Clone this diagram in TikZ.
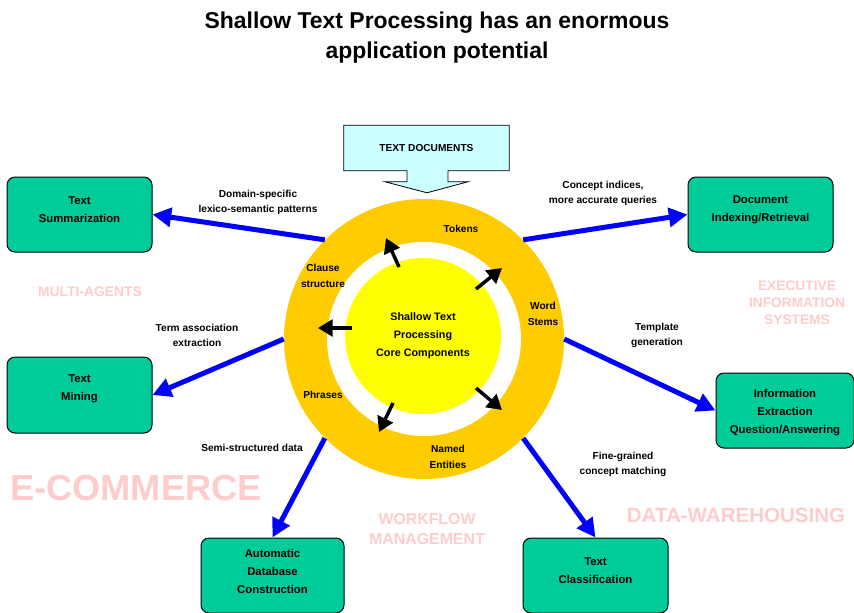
\documentclass[tikz,border=0pt]{standalone}
\usepackage{fontspec}
\setmainfont{Liberation Sans}
\usetikzlibrary{arrows.meta,calc,backgrounds}
\definecolor{appgreen}{HTML}{00CC99}
\definecolor{ringorange}{HTML}{FFCC00}
\definecolor{coreyellow}{HTML}{FFFF00}
\definecolor{docscyan}{HTML}{CCFFFF}
\definecolor{flowblue}{HTML}{0000FF}
\definecolor{fadepink}{HTML}{FFCCCC}
\begin{document}
\begin{tikzpicture}[x=0.75pt,y=-0.75pt,
  app/.style={draw=black, line width=0.75pt, fill=appgreen, rounded corners=6pt,
    minimum width=108.75pt, minimum height=56.25pt, inner sep=0pt},
  apptext/.style={align=center, inner sep=0pt, font=\bfseries\fontsize{8.5}{13.5}\selectfont},
  flow/.style={draw=flowblue, line width=3.75pt, -{Triangle[length=14pt,width=14pt]}},
  spoke/.style={draw=black, line width=2.6pt, -{Triangle[length=11pt,width=12.5pt]}},
  lbl/.style={align=center, inner sep=0pt, font=\bfseries\fontsize{7.6}{11.25}\selectfont},
  ringlbl/.style={align=center, inner sep=0pt, font=\bfseries\fontsize{7.6}{12}\selectfont},
  fade/.style={align=center, inner sep=0pt, text=fadepink}
]
\clip (0,0) rectangle (854,612);

% title
\node[align=center, font=\bfseries\fontsize{17.2}{22.5}\selectfont] (title) at (437,37.5)
  {Shallow Text Processing has an enormous\\application potential};

% faded application domains
\node[fade, font=\bfseries\fontsize{10.4}{12.8}\selectfont] (dmulti) at (90,292) {MULTI-AGENTS};
\node[fade, font=\bfseries\fontsize{10.3}{12.8}\selectfont] (dexec) at (797,303) {EXECUTIVE\\INFORMATION\\SYSTEMS};
\node[fade, font=\bfseries\fontsize{27.2}{30}\selectfont] (decom) at (136,488) {E-COMMERCE};
\node[fade, font=\bfseries\fontsize{11.9}{15}\selectfont] (dwork) at (427,529) {WORKFLOW\\MANAGEMENT};
\node[fade, font=\bfseries\fontsize{15.4}{18}\selectfont] (dware) at (736,515) {DATA-WAREHOUSING};

% input documents with their down arrow
\node[minimum width=123.75pt, minimum height=33.75pt, inner sep=0pt,
  font=\bfseries\fontsize{7.6}{9}\selectfont] (docs) at (426.5,148) {TEXT DOCUMENTS};
\begin{scope}[on background layer]
  \fill[white] (0,0) rectangle (854,612);
  \draw[line width=0.6pt, fill=docscyan] (docs.north west) -- (docs.north east) -- (docs.south east)
    -- ($(docs.south)+(21.5,0)$) -- ($(docs.south)+(21.5,11)$) -- ($(docs.south)+(41.5,11)$)
    -- ($(docs.south)+(0.5,22)$) -- ($(docs.south)+(-41.5,11)$) -- ($(docs.south)+(-19.5,11)$)
    -- ($(docs.south)+(-19.5,0)$) -- (docs.south west) -- cycle;
\end{scope}

% core components ring
\node[circle, fill=ringorange, minimum size=210pt, inner sep=0pt] (ring) at (424,339) {};
\node[circle, fill=white, minimum size=145.5pt, inner sep=0pt] (gap) at (424,339) {};
\node[circle, fill=coreyellow, minimum size=117pt, inner sep=0pt, align=center,
  font=\bfseries\fontsize{8.1}{13.5}\selectfont] (core) at (423,336)
  {Shallow Text\\Processing\\Core Components};

\node[ringlbl] (tokens) at (461,229) {Tokens};
\node[ringlbl] (clause) at (323,275.5) {Clause\\structure};
\node[ringlbl] (stems) at (543,313.5) {Word\\Stems};
\node[ringlbl] (phrases) at (323,395) {Phrases};
\node[ringlbl] (named) at (448,456.5) {Named\\Entities};

% spokes from the core to its components
\coordinate (s1a) at (399,267); \coordinate (s1b) at (386,238);
\coordinate (s2a) at (476,289); \coordinate (s2b) at (502,268);
\coordinate (s3a) at (352,328); \coordinate (s3b) at (318,328);
\coordinate (s4a) at (476,388); \coordinate (s4b) at (502,410);
\coordinate (s5a) at (393,403); \coordinate (s5b) at (379,432);
\draw[spoke] (s1a) -- (s1b);
\draw[spoke] (s2a) -- (s2b);
\draw[spoke] (s3a) -- (s3b);
\draw[spoke] (s4a) -- (s4b);
\draw[spoke] (s5a) -- (s5b);

% applications
\node[app] (tsum) at (79.5,214.5) {};
\node[app] (docidx) at (760.5,214.5) {};
\node[app, minimum height=57pt] (tmin) at (79.5,395) {};
\node[app, minimum width=103.5pt] (iex) at (785,410.5) {};
\node[app, minimum width=107.25pt] (adb) at (272.5,575.5) {};
\node[app] (tcl) at (595.5,575.5) {};

\node[apptext] (tsumt) at ($(tsum.center)+(0,-5)$) {Text\\Summarization};
\node[apptext] (docidxt) at ($(docidx.center)+(0,-5)$) {Document\\Indexing/Retrieval};
\node[apptext] (tmint) at ($(tmin.center)+(0,-6)$) {Text\\Mining};
\node[apptext] (iext) at ($(iex.center)+(0,2.5)$) {Information\\Extraction\\Question/Answering};
\node[apptext] (adbt) at ($(adb.center)+(0,-4.5)$) {Automatic\\Database\\Construction};
\node[apptext] (tclt) at ($(tcl.center)+(0,-4.5)$) {Text\\Classification};

% flows from the ring to the applications
\draw[flow] (ring.135) -- (tsum.east);
\draw[flow] (ring.45) -- (docidx.west);
\draw[flow] (ring.180) -- (tmin.east);
\draw[flow] (ring.0) -- (iex.west);
\draw[flow] (ring.225) -- (adb.north);
\draw[flow] (ring.315) -- (tcl.north);

% flow labels
\node[lbl] (l1) at (258,202) {Domain-specific\\lexico-semantic patterns};
\node[lbl] (l2) at (603,193.5) {Concept indices,\\more accurate queries};
\node[lbl] (l3) at (197,335.5) {Term association\\extraction};
\node[lbl] (l4) at (657,335.5) {Template\\generation};
\node[lbl] (l5) at (252,447.5) {Semi-structured data};
\node[lbl] (l6) at (623,464) {Fine-grained\\concept matching};
\end{tikzpicture}
\end{document}
